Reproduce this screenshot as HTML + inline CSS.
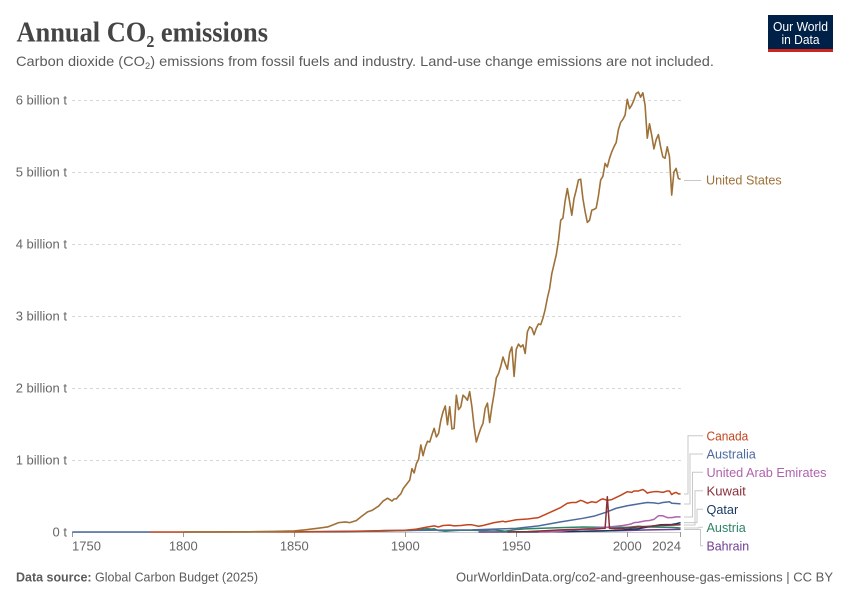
<!DOCTYPE html>
<html>
<head>
<meta charset="utf-8">
<style>
  html, body { margin:0; padding:0; background:#fff; }
  svg { display:block; }
  text { font-family: "Liberation Sans", "DejaVu Sans", sans-serif; }
</style>
</head>
<body>
<svg width="850" height="600" viewBox="0 0 850 600" xmlns="http://www.w3.org/2000/svg">
  <rect x="0" y="0" width="850" height="600" fill="#ffffff"/>

  <!-- Title -->
  <text x="16.5" y="41.3" font-size="28" font-weight="bold" fill="#454545" textLength="251.5" lengthAdjust="spacingAndGlyphs" style="font-family:'Liberation Serif',serif">Annual CO<tspan font-size="17" dy="5.5">2</tspan><tspan dy="-5.5"> emissions</tspan></text>

  <!-- Subtitle -->
  <text x="16" y="66" font-size="14" fill="#5b5b5b" textLength="698" lengthAdjust="spacingAndGlyphs">Carbon dioxide (CO<tspan font-size="9" dy="3">2</tspan><tspan dy="-3">) emissions from fossil fuels and industry. Land-use change emissions are not included.</tspan></text>

  <!-- Logo -->
  <rect x="768" y="15" width="65" height="37" fill="#002147"/>
  <rect x="768" y="49" width="65" height="3" fill="#ce261e"/>
  <text x="800.5" y="31" font-size="12.5" fill="#ffffff" text-anchor="middle" textLength="55" lengthAdjust="spacingAndGlyphs">Our World</text>
  <text x="800.5" y="44" font-size="12.5" fill="#ffffff" text-anchor="middle" textLength="38" lengthAdjust="spacingAndGlyphs">in Data</text>

  <!-- Gridlines -->
  <g stroke="#d6d6d6" stroke-width="1" stroke-dasharray="3,3">
    <line x1="72" y1="100.5" x2="681" y2="100.5"/>
    <line x1="72" y1="172.5" x2="681" y2="172.5"/>
    <line x1="72" y1="244.5" x2="681" y2="244.5"/>
    <line x1="72" y1="316.5" x2="681" y2="316.5"/>
    <line x1="72" y1="388.5" x2="681" y2="388.5"/>
    <line x1="72" y1="460.5" x2="681" y2="460.5"/>
  </g>
  <line x1="72" y1="532.5" x2="681" y2="532.5" stroke="#cccccc" stroke-width="1"/>

  <!-- Y labels -->
  <g font-size="13" fill="#666666" text-anchor="end">
    <text x="67" y="104.7">6 billion t</text>
    <text x="67" y="176.7">5 billion t</text>
    <text x="67" y="248.7">4 billion t</text>
    <text x="67" y="320.7">3 billion t</text>
    <text x="67" y="392.7">2 billion t</text>
    <text x="67" y="464.7">1 billion t</text>
    <text x="67" y="536.7">0 t</text>
  </g>

  <!-- X ticks -->
  <g stroke="#999999" stroke-width="1">
    <line x1="72.5" y1="532" x2="72.5" y2="537"/>
    <line x1="183.5" y1="532" x2="183.5" y2="537"/>
    <line x1="294.5" y1="532" x2="294.5" y2="537"/>
    <line x1="405.5" y1="532" x2="405.5" y2="537"/>
    <line x1="516.5" y1="532" x2="516.5" y2="537"/>
    <line x1="627.5" y1="532" x2="627.5" y2="537"/>
    <line x1="680.5" y1="532" x2="680.5" y2="537"/>
  </g>
  <!-- X labels -->
  <g font-size="13" fill="#666666">
    <text x="72" y="550.7">1750</text>
    <text x="183.3" y="550.7" text-anchor="middle">1800</text>
    <text x="294.3" y="550.7" text-anchor="middle">1850</text>
    <text x="405.3" y="550.7" text-anchor="middle">1900</text>
    <text x="516.3" y="550.7" text-anchor="middle">1950</text>
    <text x="627.3" y="550.7" text-anchor="middle">2000</text>
    <text x="681" y="550.7" text-anchor="end">2024</text>
  </g>

  <!-- Series -->
  <g transform="translate(72.3,532) scale(2.22,-72)" fill="none" stroke-width="1.5" stroke-linejoin="round">
    <path vector-effect="non-scaling-stroke" stroke="#4c6a9c" d="M0,0 L35,0"/>
    <path vector-effect="non-scaling-stroke" stroke="#c2451e" d="M35,0 L50,0"/>
    <!-- Bahrain -->
    <path vector-effect="non-scaling-stroke" stroke="#6d3e91" d="M183,0 L200,0.002 L220,0.005 L230,0.01 L240,0.015 L250,0.02 L260,0.03 L270,0.035 L274,0.037"/>
    <!-- Austria -->
    <path vector-effect="non-scaling-stroke" stroke="#2c8465" d="M98,0.003 L120,0.005 L130,0.008 L140,0.012 L150,0.02 L155,0.025 L158,0.04 L160,0.045 L162,0.04 L163,0.045 L165,0.02 L168,0.01 L170,0.015 L175,0.025 L180,0.025 L185,0.02 L190,0.03 L195,0.01 L200,0.035 L205,0.045 L210,0.05 L220,0.06 L230,0.07 L240,0.065 L250,0.065 L255,0.08 L260,0.07 L270,0.065 L274,0.055"/>
    <!-- Qatar -->
    <path vector-effect="non-scaling-stroke" stroke="#18375f" d="M200,0 L220,0.005 L230,0.01 L240,0.015 L245,0.02 L250,0.035 L255,0.045 L260,0.075 L265,0.1 L270,0.105 L272,0.115 L274,0.13"/>
    <!-- UAE -->
    <path vector-effect="non-scaling-stroke" stroke="#b062ad" d="M210,0 L215,0.002 L220,0.01 L225,0.03 L230,0.04 L235,0.05 L240,0.065 L245,0.08 L248,0.09 L250,0.1 L252,0.115 L253,0.13 L255,0.135 L258,0.155 L260,0.16 L262,0.175 L264,0.225 L266,0.225 L268,0.2 L270,0.2 L272,0.21 L274,0.21"/>
    <!-- Australia -->
    <path vector-effect="non-scaling-stroke" stroke="#4c6a9c" d="M100,0.001 L150,0.02 L160,0.025 L180,0.03 L190,0.04 L200,0.05 L210,0.085 L220,0.14 L230,0.19 L235,0.22 L240,0.27 L245,0.33 L250,0.365 L255,0.39 L259,0.41 L262,0.405 L264,0.395 L266,0.41 L269,0.42 L270,0.4 L272,0.395 L274,0.39"/>
    <!-- Canada -->
    <path vector-effect="non-scaling-stroke" stroke="#c2451e" d="M50,0.0005 L100,0.002 L120,0.005 L130,0.01 L140,0.02 L150,0.025 L155,0.04 L160,0.07 L163,0.085 L165,0.07 L167,0.09 L170,0.095 L172,0.085 L175,0.09 L178,0.1 L180,0.1 L183,0.08 L185,0.09 L190,0.13 L194,0.15 L195,0.14 L200,0.17 L205,0.18 L210,0.2 L215,0.27 L220,0.34 L223,0.4 L225,0.41 L227,0.41 L229,0.44 L230,0.43 L232,0.4 L234,0.42 L236,0.41 L238,0.45 L239,0.46 L240,0.45 L241,0.44 L243,0.45 L245,0.48 L247,0.51 L250,0.56 L252,0.55 L253,0.57 L255,0.57 L257,0.59 L258,0.57 L259,0.54 L260,0.55 L262,0.56 L264,0.56 L266,0.55 L268,0.57 L269,0.57 L270,0.52 L271,0.54 L272,0.55 L273,0.53 L274,0.53"/>
    <!-- Kuwait -->
    <path vector-effect="non-scaling-stroke" stroke="#883039" d="M196,0 L205,0.005 L215,0.02 L220,0.03 L225,0.035 L230,0.04 L235,0.04 L239,0.05 L240,0.05 L241,0.49 L242,0.05 L245,0.045 L250,0.055 L255,0.07 L260,0.08 L265,0.09 L270,0.095 L274,0.1"/>
    <!-- United States -->
    <path vector-effect="non-scaling-stroke" stroke="#9e7138" stroke-width="1.6" d="M50,0.0003 L70,0.001 L80,0.003 L90,0.008 L100,0.015 L105,0.03 L110,0.05 L115,0.07 L120,0.13 L123,0.14 L125,0.13 L128,0.16 L130,0.21 L133,0.28 L135,0.30 L138,0.36 L140,0.43 L142,0.47 L143,0.45 L144,0.43 L145,0.46 L146,0.46 L147,0.50 L148,0.53 L149,0.60 L150,0.64 L151,0.68 L152,0.72 L153,0.88 L154,0.82 L155,0.95 L156,1.01 L157,1.21 L158,1.06 L159,1.18 L160,1.26 L161,1.25 L162,1.35 L163,1.44 L164,1.32 L165,1.37 L166,1.55 L167,1.67 L168,1.75 L169,1.49 L170,1.74 L171,1.43 L172,1.44 L173,1.90 L174,1.70 L175,1.74 L176,1.90 L177,1.87 L178,1.83 L179,1.95 L180,1.74 L181,1.46 L182,1.25 L183,1.35 L184,1.44 L185,1.51 L186,1.72 L187,1.79 L188,1.52 L189,1.74 L190,1.92 L191,2.14 L192,2.20 L193,2.30 L194,2.43 L195,2.34 L196,2.26 L197,2.49 L198,2.57 L199,2.16 L200,2.54 L201,2.61 L202,2.57 L203,2.60 L204,2.48 L205,2.78 L206,2.85 L207,2.83 L208,2.74 L209,2.83 L210,2.89 L211,2.88 L212,2.97 L213,3.09 L214,3.25 L215,3.38 L216,3.59 L217,3.72 L218,3.85 L219,4.05 L220,4.33 L221,4.36 L222,4.60 L223,4.77 L224,4.59 L225,4.40 L226,4.63 L227,4.75 L228,4.89 L229,4.90 L230,4.63 L231,4.45 L232,4.30 L233,4.33 L234,4.47 L235,4.48 L236,4.50 L237,4.67 L238,4.89 L239,4.94 L240,5.12 L241,5.07 L242,5.19 L243,5.28 L244,5.35 L245,5.41 L246,5.59 L247,5.69 L248,5.73 L249,5.79 L250,6.01 L251,5.88 L252,5.93 L253,6.00 L254,6.09 L255,6.11 L256,6.04 L257,6.10 L258,5.93 L259,5.47 L260,5.67 L261,5.51 L262,5.32 L263,5.45 L264,5.52 L265,5.35 L266,5.21 L267,5.19 L268,5.35 L269,5.21 L270,4.68 L271,5.00 L272,5.05 L273,4.91 L274,4.90"/>
  </g>

  <!-- Connectors -->
  <g fill="none" stroke="#c8c8c8" stroke-width="1">
    <path d="M684,180.5 H701"/>
    <path d="M684,494 H688 V435.7 H703"/>
    <path d="M684,504 H690 V454 H703"/>
    <path d="M684,517 H692.5 V472.3 H703"/>
    <path d="M684,525 H695 V490.7 H703"/>
    <path d="M684,522.6 H697 V509.3 H703"/>
    <path d="M684,528 H699 V527.3 H703"/>
    <path d="M684,529.5 H700.5 V545.7 H703"/>
  </g>

  <!-- Series labels -->
  <g font-size="13">
    <text x="706" y="184.6" fill="#9e7138" textLength="75.7" lengthAdjust="spacingAndGlyphs">United States</text>
    <text x="706.5" y="440.3" fill="#c2451e" textLength="41.7" lengthAdjust="spacingAndGlyphs">Canada</text>
    <text x="706.5" y="458.6" fill="#4c6a9c" textLength="49.3" lengthAdjust="spacingAndGlyphs">Australia</text>
    <text x="706.5" y="476.9" fill="#b062ad" textLength="120" lengthAdjust="spacingAndGlyphs">United Arab Emirates</text>
    <text x="706.5" y="495.3" fill="#883039" textLength="39.3" lengthAdjust="spacingAndGlyphs">Kuwait</text>
    <text x="706.5" y="513.9" fill="#18375f" textLength="31.7" lengthAdjust="spacingAndGlyphs">Qatar</text>
    <text x="706.5" y="531.9" fill="#2c8465" textLength="39.3" lengthAdjust="spacingAndGlyphs">Austria</text>
    <text x="706.5" y="550.3" fill="#6d3e91" textLength="42.7" lengthAdjust="spacingAndGlyphs">Bahrain</text>
  </g>

  <!-- Footer -->
  <text x="16" y="581.3" font-size="13" fill="#5b5b5b" textLength="242" lengthAdjust="spacingAndGlyphs"><tspan font-weight="bold">Data source:</tspan> Global Carbon Budget (2025)</text>
  <text x="833" y="581.3" font-size="13" fill="#5b5b5b" text-anchor="end" textLength="377" lengthAdjust="spacingAndGlyphs">OurWorldinData.org/co2-and-greenhouse-gas-emissions | CC BY</text>
</svg>
</body>
</html>
